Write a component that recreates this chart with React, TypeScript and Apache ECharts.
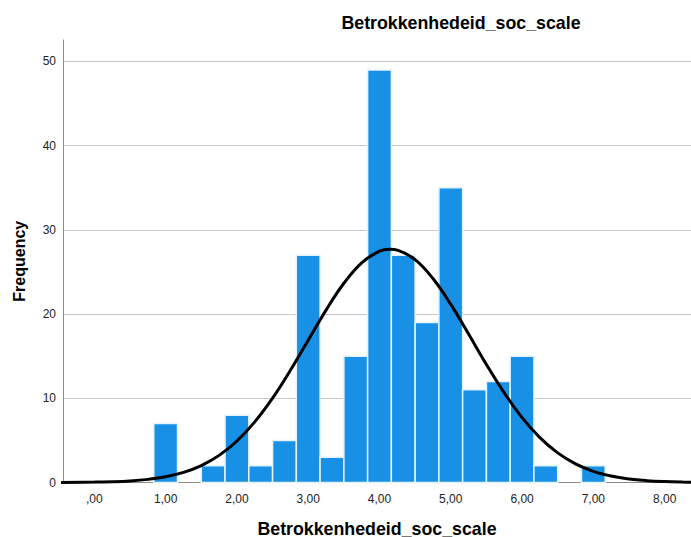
import React, { useEffect, useRef } from "react";
import * as echarts from "echarts";

const binCenters = [1.0, 1.667, 2.0, 2.333, 2.667, 3.0, 3.333, 3.667, 4.0, 4.333, 4.667, 5.0, 5.333, 5.667, 6.0, 6.333, 7.0];
const counts = [7, 2, 8, 2, 5, 27, 3, 15, 49, 27, 19, 35, 11, 12, 15, 2, 2];
const binWidth = 1 / 3;

const curveX = [-0.5, 0, 0.25, 0.5, 0.75, 1, 1.25, 1.5, 1.75, 2, 2.25, 2.5, 2.75, 3, 3.25, 3.5, 3.75, 4, 4.15, 4.25, 4.5, 4.75, 5, 5.25, 5.5, 5.75, 6, 6.25, 6.5, 6.75, 7, 7.25, 7.5, 7.75, 8, 8.25, 8.5];
const curveY = [0.01, 0.045, 0.094, 0.19, 0.37, 0.68, 1.2, 2.01, 3.22, 4.93, 7.2, 10.02, 13.32, 16.9, 20.47, 23.66, 26.09, 27.47, 27.7, 27.6, 26.46, 24.22, 21.15, 17.63, 14.02, 10.65, 7.71, 5.33, 3.52, 2.22, 1.33, 0.77, 0.42, 0.22, 0.11, 0.05, 0.02];

const xTicks = [0, 1, 2, 3, 4, 5, 6, 7, 8];
const yTicks = [0, 10, 20, 30, 40, 50];

const titleText = "Betrokkenhedeid_soc_scale";
const xName = "Betrokkenhedeid_soc_scale";
const yName = "Frequency";

const FONT = "'Liberation Sans', Arial, sans-serif";

export default function App() {
  const ref = useRef<HTMLDivElement>(null);
  useEffect(() => {
    if (!ref.current) return;
    const chart = echarts.init(ref.current, null, { renderer: "svg" });
    const fmt = (v: number) => {
      const s = v.toFixed(2).replace(".", ",");
      return s.startsWith("0,") ? s.slice(1) : s;
    };
    chart.setOption({
      animation: false,
      backgroundColor: "#ffffff",
      textStyle: { fontFamily: FONT },
      grid: { left: 63, right: 0, top: 40, bottom: 54.5, containLabel: false, outerBoundsMode: "none" },
      graphic: [
        {
          type: "text",
          x: 461,
          y: 23,
          style: {
            text: titleText,
            fontFamily: FONT,
            fontSize: 17.8,
            fontWeight: "bold",
            fill: "#000",
            align: "center",
            verticalAlign: "middle",
          },
        },
      ],
      xAxis: {
        type: "value",
        min: -0.44,
        max: 8.37,
        name: xName,
        nameLocation: "middle",
        nameGap: 37,
        nameTextStyle: { fontFamily: FONT, fontSize: 17.8, fontWeight: "bold", color: "#000" },
        axisLine: { show: true, onZero: false, lineStyle: { color: "#8c8c8c", width: 1 } },
        axisTick: { show: false },
        splitLine: { show: false },
        axisLabel: {
          customValues: xTicks,
          formatter: fmt,
          fontFamily: FONT,
          fontSize: 12,
          color: "#222",
          margin: 10,
        },
      },
      yAxis: {
        type: "value",
        min: 0,
        max: 52.55,
        interval: 10,
        name: yName,
        nameLocation: "middle",
        nameGap: 36,
        nameRotate: 90,
        nameTextStyle: { fontFamily: FONT, fontSize: 16, fontWeight: "bold", color: "#000" },
        axisLine: { show: true, onZero: false, lineStyle: { color: "#8c8c8c", width: 1 } },
        axisTick: { show: false },
        splitLine: { show: true, showMaxLine: false, lineStyle: { color: "#c8c8c8", width: 1 } },
        axisLabel: {
          customValues: yTicks,
          fontFamily: FONT,
          fontSize: 12,
          color: "#222",
          margin: 7,
        },
      },
      series: [
        {
          type: "custom",
          data: binCenters.map((c, i) => [c, counts[i]]),
          encode: { x: 0, y: 1 },
          z: 2,
          renderItem: (params: any, api: any) => {
            const x = api.value(0);
            const y = api.value(1);
            const p0 = api.coord([x - binWidth / 2, y]);
            const p1 = api.coord([x + binWidth / 2, 0]);
            return {
              type: "rect",
              shape: { x: p0[0], y: p0[1], width: p1[0] - p0[0], height: p1[1] - p0[1] },
              style: { fill: "#1790e6", stroke: "#e4f2fc", lineWidth: 1.5 },
            };
          },
        },
        {
          type: "line",
          data: curveX.map((x, i) => [x, curveY[i]]),
          smooth: 0.4,
          symbol: "none",
          clip: true,
          z: 5,
          lineStyle: { color: "#000", width: 3 },
        },
      ],
    });
    return () => chart.dispose();
  }, []);
  return (
    <div
      ref={ref}
      style={{ position: "fixed", left: 0, top: 0, width: 691, height: 537 }}
    />
  );
}
